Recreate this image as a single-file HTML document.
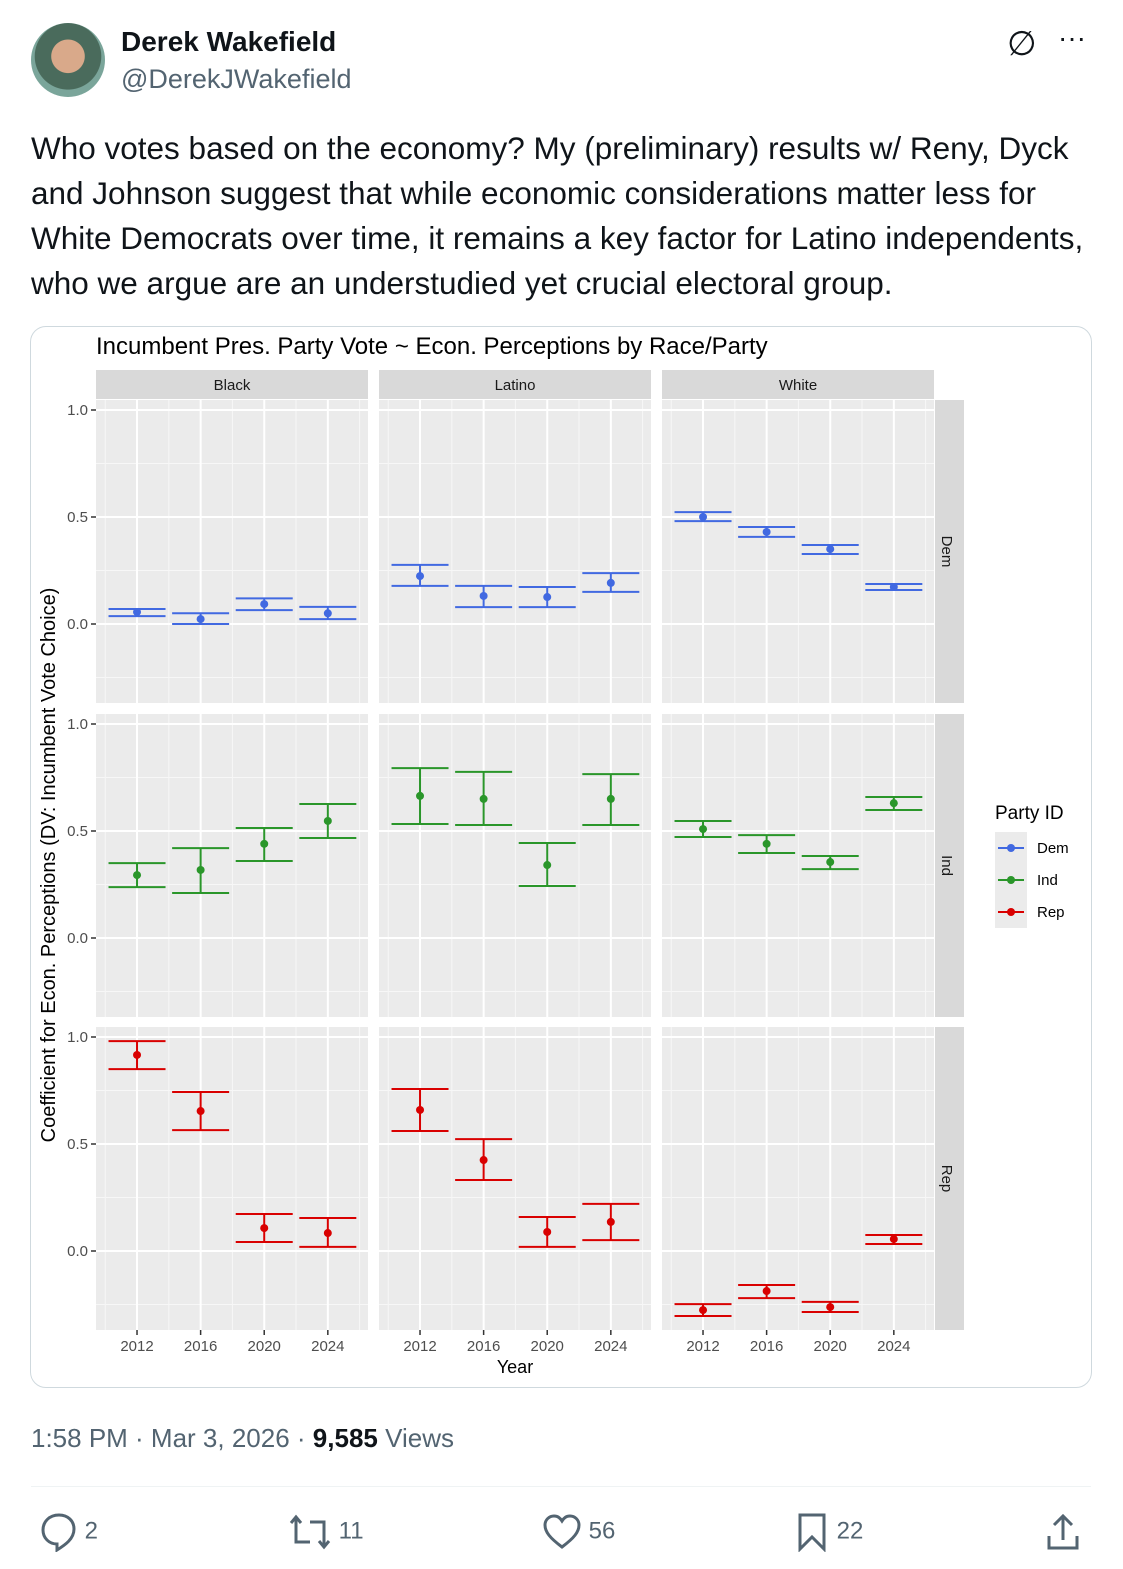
<!DOCTYPE html>
<html><head><meta charset="utf-8">
<style>
body{margin:0;background:#fff;width:1123px;height:1569px;position:relative;overflow:hidden;font-family:"Liberation Sans",sans-serif;}
.abs{position:absolute;}
.t{color:#0f1419;}
.g{color:#536471;}
</style></head>
<body>
<div class="abs" style="left:31px;top:23px;width:74px;height:74px;border-radius:50%;background:radial-gradient(circle at 50% 45%,#d9a98a 0 30%,#4a6b5c 31% 60%,#7aa59a 61%);"></div>
<div class="abs t" style="left:121px;top:26px;font-size:28px;font-weight:bold;">Derek Wakefield</div>
<div class="abs g" style="left:121px;top:64px;font-size:27px;">@DerekJWakefield</div>
<div class="abs" style="left:1007px;top:24px;font-size:34px;color:#0f1419;">∅</div>
<div class="abs" style="left:1058px;top:22px;font-size:28px;color:#0f1419;">···</div>
<div class="abs t" style="left:31px;top:126px;font-size:31.5px;line-height:45px;white-space:nowrap;">Who votes based on the economy? My (preliminary) results w/ Reny, Dyck<br>and Johnson suggest that while economic considerations matter less for<br>White Democrats over time, it remains a key factor for Latino independents,<br>who we argue are an understudied yet crucial electoral group.</div>
<div class="abs" style="left:30px;top:326px;width:1060px;height:1060px;border:1px solid #cfd9de;border-radius:16px;overflow:hidden;">
<svg id="chart" width="1060" height="1060" viewBox="31 327 1060 1060" style="display:block"></svg>
</div>
<div class="abs g" style="left:31px;top:1423px;font-size:26px;">1:58 PM · Mar 3, 2026 · <b style="color:#0f1419">9,585</b> Views</div>
<div class="abs" style="left:31px;top:1486px;width:1060px;height:1px;background:#eff3f4;"></div>
<div class="abs g" style="left:40px;top:1512px;font-size:24px;"><svg width="38" height="40" style="vertical-align:middle"><path d="M19 3C9 3 3 10 3 18c0 8 6 14 14 14v6c8-5 17-11 17-21C34 9 28 3 19 3z" fill="none" stroke="#536471" stroke-width="3"/></svg> 2</div>
<div class="abs g" style="left:288px;top:1512px;font-size:24px;"><svg width="44" height="40" style="vertical-align:middle"><path d="M8 6v24h14M3 11l5-6 5 6M36 34V10H22M31 29l5 6 5-6" fill="none" stroke="#536471" stroke-width="3"/></svg> 11</div>
<div class="abs g" style="left:542px;top:1512px;font-size:24px;"><svg width="40" height="40" style="vertical-align:middle"><path d="M20 35C8 26 3 20 3 13c0-5 4-9 9-9 4 0 6 2 8 5 2-3 4-5 8-5 5 0 9 4 9 9 0 7-5 13-17 22z" fill="none" stroke="#536471" stroke-width="3"/></svg> 56</div>
<div class="abs g" style="left:796px;top:1512px;font-size:24px;"><svg width="34" height="40" style="vertical-align:middle"><path d="M4 3h24v34l-12-12-12 12z" fill="none" stroke="#536471" stroke-width="3"/></svg> 22</div>
<div class="abs" style="left:1045px;top:1512px;"><svg width="36" height="40"><path d="M18 4v24M9 13l9-9 9 9M4 24v12h28V24" fill="none" stroke="#536471" stroke-width="3"/></svg></div>
<script>
const races=["Black","Latino","White"];
const parties=["Dem","Ind","Rep"];
const years=[2012,2016,2020,2024];
// estimates [party][race][year]
const est=[
 [[0.056,0.023,0.093,0.05],[0.224,0.131,0.126,0.192],[0.5,0.43,0.35,0.173]],
 [[0.294,0.318,0.44,0.547],[0.664,0.65,0.341,0.65],[0.509,0.44,0.355,0.63]],
 [[0.916,0.654,0.107,0.084],[0.659,0.425,0.089,0.136],[-0.276,-0.187,-0.262,0.056]]
];
const hiV=[
 [[0.07,0.05,0.12,0.08],[0.276,0.178,0.173,0.238],[0.523,0.453,0.369,0.187]],
 [[0.35,0.42,0.514,0.626],[0.794,0.776,0.444,0.766],[0.547,0.481,0.383,0.659]],
 [[0.981,0.743,0.173,0.154],[0.757,0.523,0.159,0.22],[-0.248,-0.159,-0.238,0.075]]
];
const loV=[
 [[0.037,0.0,0.065,0.023],[0.178,0.079,0.079,0.15],[0.481,0.407,0.327,0.159]],
 [[0.238,0.21,0.36,0.467],[0.533,0.528,0.243,0.528],[0.472,0.397,0.322,0.598]],
 [[0.85,0.565,0.042,0.019],[0.561,0.332,0.019,0.051],[-0.304,-0.22,-0.285,0.033]]
];
const yTicks=[0,0.5,1.0];
const yTickLabels=["0.0","0.5","1.0"];
const colors=["#4169e1","#2a962a","#d90000"];
const svg=document.getElementById('chart');
const NS="http://www.w3.org/2000/svg";
function mk(tag,attrs,name,txt){const e=document.createElementNS(NS,tag);for(const k in attrs)e.setAttribute(k,attrs[k]);


if(txt!==undefined)e.textContent=txt;svg.appendChild(e);return e;}
const colX=[96,379,662], colW=272;
const rowY=[400,714,1027], rowH=303;
const zeroOff=224, unit=214;
function xs(c,yr){return colX[c]+(yr-2009.42)*15.9;}
function ys(r,v){return rowY[r]+zeroOff-v*unit;}
mk('text',{x:96,y:354,'font-size':24,fill:'#000'},'chart-title','Incumbent Pres. Party Vote ~ Econ. Perceptions by Race/Party');
for(let c=0;c<3;c++){
 mk('rect',{x:colX[c],y:370,width:colW,height:29,fill:'#d9d9d9'},'strip-'+races[c].toLowerCase());
 mk('text',{x:colX[c]+colW/2,y:390,'font-size':15,fill:'#1a1a1a','text-anchor':'middle'},'strip-label-'+races[c].toLowerCase(),races[c]);
}
for(let r=0;r<3;r++){
 mk('rect',{x:935,y:rowY[r],width:29,height:rowH,fill:'#d9d9d9'},'strip-'+parties[r].toLowerCase());
 const cy=rowY[r]+rowH/2;
 mk('text',{x:942,y:cy,'font-size':15,fill:'#1a1a1a','text-anchor':'middle',transform:`rotate(90 942 ${cy})`},'strip-label-'+parties[r].toLowerCase(),parties[r]);
 for(let c=0;c<3;c++){
  mk('rect',{x:colX[c],y:rowY[r],width:colW,height:rowH,fill:'#ebebeb'},'panel-bg');
  for(const v of [-0.25,0.25,0.75]){const y=ys(r,v);if(y>rowY[r]&&y<rowY[r]+rowH)mk('line',{x1:colX[c],x2:colX[c]+colW,y1:y,y2:y,stroke:'#f7f7f7','stroke-width':1},'minor-gridline');}
  for(const yr of [2010,2014,2018,2022,2026])mk('line',{x1:xs(c,yr),x2:xs(c,yr),y1:rowY[r],y2:rowY[r]+rowH,stroke:'#f7f7f7','stroke-width':1},'minor-gridline');
  yTicks.forEach(v=>{const y=ys(r,v);mk('line',{x1:colX[c],x2:colX[c]+colW,y1:y,y2:y,stroke:'#fff','stroke-width':2},'major-gridline');});
  years.forEach(yr=>mk('line',{x1:xs(c,yr),x2:xs(c,yr),y1:rowY[r],y2:rowY[r]+rowH,stroke:'#fff','stroke-width':2},'major-gridline'));
  years.forEach((yr,i)=>{
   const x=xs(c,yr),col=colors[r],yh=ys(r,hiV[r][c][i]),yl=ys(r,loV[r][c][i]);
   mk('line',{x1:x,x2:x,y1:yh,y2:yl,stroke:col,'stroke-width':2},'errorbar-'+races[c].toLowerCase()+'-'+parties[r].toLowerCase()+'-'+yr);
   mk('line',{x1:x-28.5,x2:x+28.5,y1:yh,y2:yh,stroke:col,'stroke-width':2},'errorbar-cap-high');
   mk('line',{x1:x-28.5,x2:x+28.5,y1:yl,y2:yl,stroke:col,'stroke-width':2},'errorbar-cap-low');
   mk('circle',{cx:x,cy:ys(r,est[r][c][i]),r:4,fill:col},'point-'+races[c].toLowerCase()+'-'+parties[r].toLowerCase()+'-'+yr);
  });
 }
 yTicks.forEach((v,i)=>{const y=ys(r,v);
  mk('line',{x1:91,x2:96,y1:y,y2:y,stroke:'#333','stroke-width':1.5},'y-tick');
  mk('text',{x:88,y:y+5,'font-size':15,fill:'#4d4d4d','text-anchor':'end'},'y-tick-label',yTickLabels[i]);});
}
for(let c=0;c<3;c++)years.forEach(yr=>{const x=xs(c,yr);
 mk('line',{x1:x,x2:x,y1:1330,y2:1335,stroke:'#333','stroke-width':1.5},'x-tick');
 mk('text',{x:x,y:1351,'font-size':15,fill:'#4d4d4d','text-anchor':'middle'},'x-tick-label',String(yr));});
mk('text',{x:515,y:1373,'font-size':18,fill:'#000','text-anchor':'middle'},'x-axis-title','Year');
mk('text',{x:0,y:0,'font-size':20,fill:'#000','text-anchor':'middle',transform:'translate(55 865) rotate(-90)'},'y-axis-title','Coefficient for Econ. Perceptions (DV: Incumbent Vote Choice)');
mk('text',{x:995,y:819,'font-size':19,fill:'#000'},'legend-title','Party ID');
mk('rect',{x:995,y:832,width:32,height:96,fill:'#ebebeb'},'legend-keys-bg');
parties.forEach((p,i)=>{const y=848+i*32;
 mk('line',{x1:998,x2:1024,y1:y,y2:y,stroke:colors[i],'stroke-width':2},'legend-line-'+p.toLowerCase());
 mk('circle',{cx:1011,cy:y,r:4,fill:colors[i]},'legend-point-'+p.toLowerCase());
 mk('text',{x:1037,y:y+5,'font-size':15,fill:'#000'},'legend-entry-'+p.toLowerCase(),p);});
</script>
</body></html>
